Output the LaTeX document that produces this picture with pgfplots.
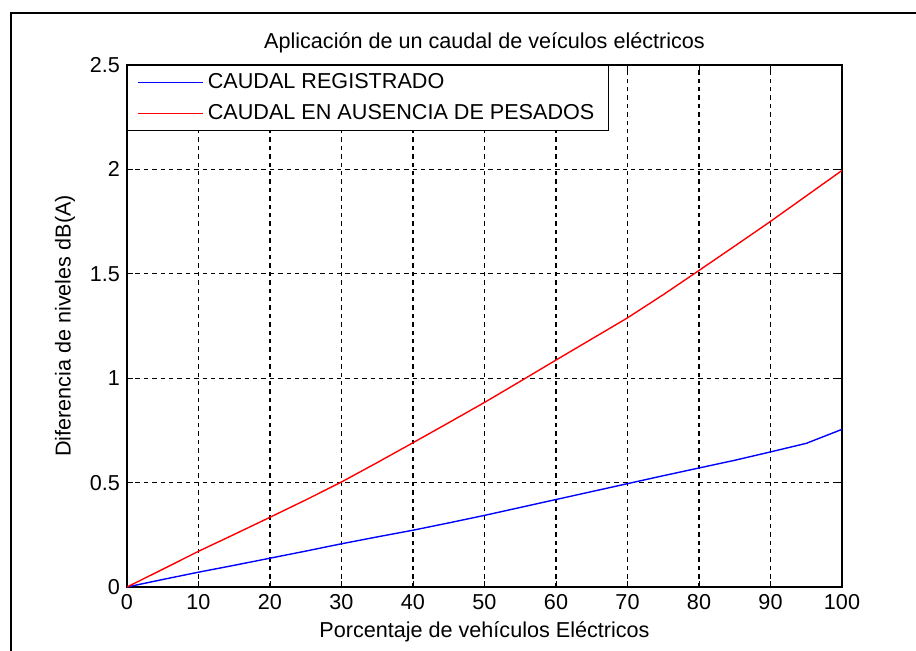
\documentclass[border=0pt]{standalone}
\usepackage{fontspec}
\setmainfont{Liberation Sans}
\usepackage{pgfplots}
\pgfplotsset{compat=1.18}

\begin{document}
\begin{tikzpicture}
  \useasboundingbox (-63.5pt,-31.5pt) rectangle (394.5pt,293.5pt);

  % outer figure frame (only top and left edges visible)
  \draw[line width=1pt] (-58pt,-40pt) -- (-58pt,287pt) -- (400pt,287pt);

  \begin{axis}[
    scale only axis,
    width=357.5pt,
    height=261pt,
    xmin=0, xmax=100,
    ymin=0, ymax=2.5,
    xtick={0,10,...,100},
    ytick={0,0.5,1,1.5,2,2.5},
    yticklabels={0,0.5,1,1.5,2,2.5},
    tick align=inside,
    major tick length=3pt,
    tick style={black, line width=0.5pt},
    axis line style={black, line width=0.6pt},
    grid=major,
    major grid style={black, line width=0.6pt, dash pattern=on 2.2pt off 2pt},
    /pgf/number format/assume math mode=true,
    font=\fontsize{10.8}{12}\selectfont,
    ticklabel style={font=\fontsize{10.8}{12}\selectfont},
    title={Aplicación de un caudal de veículos eléctricos},
    every axis title/.style={at={(axis description cs:0.5,1)}, anchor=center, yshift=11pt},
    xlabel={Porcentaje de vehículos Eléctricos},
    every axis x label/.style={at={(axis description cs:0.5,0)}, anchor=center, yshift=-22.5pt},
    ylabel={Diferencia de niveles dB(A)},
    every axis y label/.style={at={([xshift=-31pt]axis description cs:0,0.5)}, anchor=center, rotate=90},
    legend style={at={(axis description cs:0,1)}, anchor=north west, draw=black, line width=0.5pt,
      fill=white, inner xsep=5pt, inner ysep=2pt, row sep=2.5pt,
      font=\fontsize{10.8}{12}\selectfont},
    legend cell align=left,
    legend image code/.code={\draw[#1, line width=0.7pt] (0pt,0pt) -- (32.5pt,0pt);},
  ]

  \addplot[blue, line width=0.7pt] coordinates {
    (0,0) (5,0.036) (10,0.071) (15,0.104) (20,0.138) (25,0.172) (30,0.207)
    (35,0.240) (40,0.272) (45,0.307) (50,0.343) (55,0.381) (60,0.419)
    (65,0.457) (70,0.495) (75,0.533) (80,0.570) (85,0.607) (90,0.647)
    (95,0.688) (100,0.755)
  };
  \addlegendentry{CAUDAL REGISTRADO}

  \addplot[red, line width=0.7pt] coordinates {
    (0,0) (5,0.085) (10,0.171) (15,0.252) (20,0.334) (25,0.417) (30,0.503)
    (35,0.596) (40,0.691) (45,0.787) (50,0.884) (55,0.985) (60,1.087)
    (65,1.188) (70,1.289) (75,1.400) (80,1.516) (85,1.633) (90,1.751)
    (95,1.873) (100,1.995)
  };
  \addlegendentry{CAUDAL EN AUSENCIA DE PESADOS}

  \end{axis}
\end{tikzpicture}
\end{document}
